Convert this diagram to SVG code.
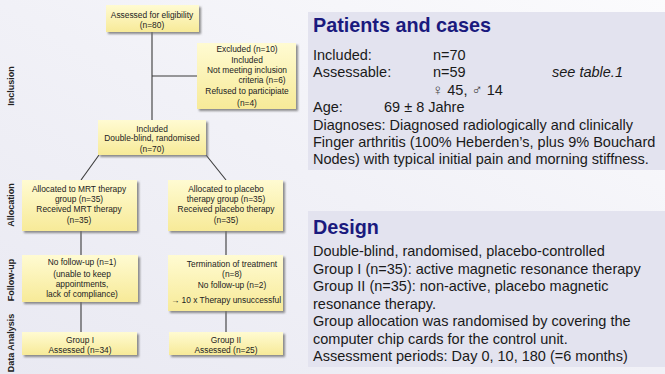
<svg xmlns="http://www.w3.org/2000/svg" width="665" height="374" viewBox="0 0 665 374">
<defs>
<linearGradient id="bg" x1="1" y1="0" x2="0" y2="1">
<stop offset="0" stop-color="#fbfbfd"/>
<stop offset="0.5" stop-color="#f1f1f7"/>
<stop offset="1" stop-color="#e9e9f2"/>
</linearGradient>
<linearGradient id="yel" x1="0" y1="0" x2="0" y2="1">
<stop offset="0" stop-color="#fffbd2"/>
<stop offset="1" stop-color="#f7ea98"/>
</linearGradient>
<filter id="sh" x="-10%" y="-10%" width="130%" height="140%">
<feDropShadow dx="2" dy="2" stdDeviation="0.8" flood-color="#707070" flood-opacity="0.8"/>
</filter>
</defs>
<style>
.box{fill:url(#yel);filter:url(#sh)}
.t{font-family:"Liberation Sans",Arial,sans-serif;font-size:8.4px;fill:#222;text-anchor:middle}
.side{font-family:"Liberation Sans",Arial,sans-serif;font-size:9px;font-weight:bold;fill:#222;text-anchor:middle}
.conn line{stroke:#3a3a3a;stroke-width:1.1}
.panel{fill:#e3e3ef}
.h{font-family:"Liberation Sans",Arial,sans-serif;font-size:19.8px;font-weight:bold;fill:#1a1a7e}
.b{font-family:"Liberation Sans",Arial,sans-serif;font-size:14.5px;fill:#1a1a1a}
.sym{font-family:"DejaVu Sans",sans-serif;font-size:15px;font-weight:200;fill:#444}
</style>
<rect width="665" height="374" fill="url(#bg)"/>

<g id="side-labels">
<text class="side" transform="translate(14,86) rotate(-90)">Inclusion</text>
<text class="side" transform="translate(14,205) rotate(-90)">Allocation</text>
<text class="side" transform="translate(14,280) rotate(-90)">Follow-up</text>
<text class="side" transform="translate(14,343) rotate(-90)">Data Analysis</text>
</g>

<g class="conn" id="connectors">
<line x1="152" y1="32" x2="152" y2="120"/>
<line x1="152" y1="76" x2="197" y2="76"/>
<line x1="99" y1="155" x2="81" y2="180"/>
<line x1="206" y1="155" x2="226" y2="180"/>
<line x1="81" y1="231" x2="81" y2="255"/>
<line x1="226" y1="231" x2="226" y2="255"/>
<line x1="81" y1="302" x2="81" y2="332"/>
<line x1="226" y1="311" x2="226" y2="332"/>
</g>

<g id="n-assessed">
<rect class="box" x="106" y="5" width="93" height="27"/>
<text class="t" x="152" y="18">Assessed for eligibility</text>
<text class="t" x="152" y="28">(n=80)</text>
</g>

<g id="n-excluded">
<rect class="box" x="197" y="43" width="99" height="66"/>
<text class="t" x="247" y="52">Excluded (n=10)</text>
<text class="t" x="247" y="63">Included</text>
<text class="t" x="247" y="73">Not meeting inclusion</text>
<text class="t" x="262" y="83">criteria  (n=6)</text>
<text class="t" x="247" y="94">Refused to participiate</text>
<text class="t" x="247" y="106">(n=4)</text>
</g>

<g id="n-included">
<rect class="box" x="98" y="120" width="108" height="35"/>
<text class="t" x="152" y="132">Included</text>
<text class="t" x="152" y="141">Double-blind, randomised</text>
<text class="t" x="152" y="152">(n=70)</text>
</g>

<g id="n-mrt">
<rect class="box" x="22" y="180" width="115" height="51"/>
<text class="t" x="79" y="192">Allocated to MRT therapy</text>
<text class="t" x="79" y="202">group (n=35)</text>
<text class="t" x="79" y="212">Received MRT therapy</text>
<text class="t" x="79" y="223">(n=35)</text>
</g>

<g id="n-placebo">
<rect class="box" x="168" y="180" width="115" height="51"/>
<text class="t" x="226" y="192">Allocated to placebo</text>
<text class="t" x="226" y="202">therapy group (n=35)</text>
<text class="t" x="226" y="212">Received placebo therapy</text>
<text class="t" x="226" y="223">(n=35)</text>
</g>

<g id="n-followup1">
<rect class="box" x="22" y="255" width="116" height="47"/>
<text class="t" x="82" y="265">No follow-up (n=1)</text>
<text class="t" x="82" y="277">(unable to keep</text>
<text class="t" x="82" y="287">appointments,</text>
<text class="t" x="82" y="297">lack of compliance)</text>
</g>

<g id="n-followup2">
<rect class="box" x="168" y="255" width="115" height="56"/>
<text class="t" x="232" y="267">Termination of treatment</text>
<text class="t" x="232" y="277">(n=8)</text>
<text class="t" x="232" y="288">No follow-up (n=2)</text>
<text class="t" x="226" y="303">→ 10 x Therapy unsuccessful</text>
</g>

<g id="n-group1">
<rect class="box" x="22" y="332" width="115" height="23"/>
<text class="t" x="80" y="343">Group I</text>
<text class="t" x="80" y="353">Assessed (n=34)</text>
</g>

<g id="n-group2">
<rect class="box" x="169" y="332" width="114" height="23"/>
<text class="t" x="226" y="343">Group II</text>
<text class="t" x="226" y="353">Assessed (n=25)</text>
</g>

<g id="patients">
<rect class="panel" x="308" y="12" width="357" height="158"/>
<text class="h" x="313" y="32">Patients and cases</text>
<text class="b" x="313" y="60">Included:</text>
<text class="b" x="433" y="60">n=70</text>
<text class="b" x="313" y="77">Assessable:</text>
<text class="b" x="433" y="77">n=59</text>
<text class="b" x="552" y="77" font-style="italic">see table.1</text>
<text class="b" x="432" y="95"><tspan class="sym">♀</tspan> 45, <tspan class="sym">♂</tspan> 14</text>
<text class="b" x="313" y="112">Age:</text>
<text class="b" x="384" y="112">69 ± 8 Jahre</text>
<text class="b" x="313" y="130">Diagnoses: Diagnosed radiologically and clinically</text>
<text class="b" x="313" y="147">Finger arthritis (100% Heberden’s, plus 9% Bouchard</text>
<text class="b" x="313" y="164">Nodes) with typical initial pain and morning stiffness.</text>
</g>

<g id="design">
<rect class="panel" x="308" y="211" width="357" height="156"/>
<text class="h" x="313" y="234">Design</text>
<text class="b" x="313" y="256">Double-blind, randomised, placebo-controlled</text>
<text class="b" x="313" y="274">Group I (n=35): active magnetic resonance therapy</text>
<text class="b" x="313" y="291">Group II (n=35): non-active, placebo magnetic</text>
<text class="b" x="313" y="309">resonance therapy.</text>
<text class="b" x="313" y="326">Group allocation was randomised by covering the</text>
<text class="b" x="313" y="344">computer chip cards for the control unit.</text>
<text class="b" x="313" y="361">Assessment periods: Day 0, 10, 180 (=6 months)</text>
</g>
</svg>
